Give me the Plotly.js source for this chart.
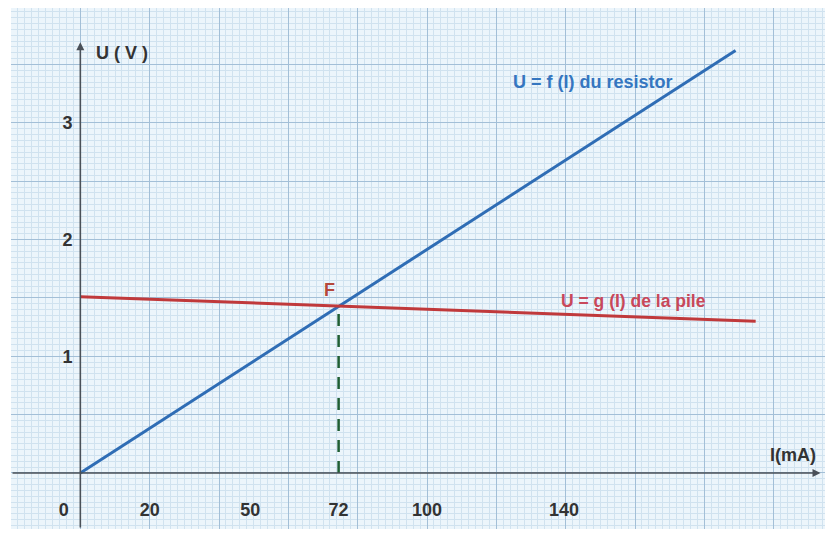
<!DOCTYPE html>
<html>
<head>
<meta charset="utf-8">
<script src="https://cdn.plot.ly/plotly-3.0.1.min.js"></script>
<style>html,body{margin:0;padding:0;background:#fff;}#chart{width:825px;height:535px;}</style>
</head>
<body>
<div id="chart"></div>
<script>
// ---- data ----
const resistorI = [0, 189];          // mA
const resistorU = [0, 3.62];         // V
const pileI = [0, 194.8];            // mA
const pileU = [1.51, 1.30];          // V
const pointF_I = 74.5;               // mA (labelled 72)
const pointF_U = 1.43;               // V
const xTickVals = [-4.8, 20, 49, 74.5, 100, 139.5];
const xTickText = ['0', '20', '50', '72', '100', '140'];
const yTickVals = [1, 2, 3];
const yTickText = ['1', '2', '3'];

const xRange = [-20, 214.8];
const yRange = [-0.48, 3.984];

const traces = [
  {x: resistorI, y: resistorU, mode: 'lines', line: {color: '#2f6db5', width: 3}, hoverinfo: 'none'},
  {x: pileI, y: pileU, mode: 'lines', line: {color: '#c0393b', width: 3}, hoverinfo: 'none'},
  {x: [pointF_I, pointF_I], y: [0, pointF_U], mode: 'lines', line: {color: '#1f5e33', width: 2.5, dash: '12px,9px'}, hoverinfo: 'none'},
  // invisible anchor so the label axes are drawn
  {x: [xRange[0]], y: [yRange[0]], xaxis: 'x2', yaxis: 'y2', mode: 'markers', marker: {opacity: 0}, hoverinfo: 'none'}
];

const FONT = 'Liberation Sans, Arial, sans-serif';
const lblFont = {family: FONT, size: 18, color: '#333', weight: 'bold'};

const layout = {
  width: 825, height: 535,
  margin: {l: 11, r: 0, t: 8, b: 6, pad: 0},
  paper_bgcolor: '#ffffff',
  plot_bgcolor: '#ecf5fb',
  showlegend: false,
  xaxis: {
    range: xRange, showticklabels: false, ticks: '', zeroline: false, showline: false,
    tick0: 0, dtick: 20, showgrid: true, gridcolor: '#a3bfd7', gridwidth: 1,
    minor: {tick0: 0, dtick: 2, showgrid: true, gridcolor: '#d0e2ef', gridwidth: 1}
  },
  yaxis: {
    range: yRange, showticklabels: false, ticks: '', zeroline: false, showline: false,
    tick0: 0, dtick: 0.5, showgrid: true, gridcolor: '#a3bfd7', gridwidth: 1,
    minor: {tick0: 0, dtick: 0.05, showgrid: true, gridcolor: '#d0e2ef', gridwidth: 1}
  },
  xaxis2: {
    overlaying: 'x', anchor: 'free', position: 0.062, side: 'bottom', range: xRange,
    tickmode: 'array', tickvals: xTickVals, ticktext: xTickText,
    showgrid: false, zeroline: false, showline: false, ticks: '', tickfont: lblFont
  },
  yaxis2: {
    overlaying: 'y', anchor: 'free', position: 0.0755, side: 'left', range: yRange,
    tickmode: 'array', tickvals: yTickVals, ticktext: yTickText,
    showgrid: false, zeroline: false, showline: false, ticks: '', tickfont: lblFont
  },
  annotations: [
    {xref: 'x', yref: 'y', axref: 'x', ayref: 'y', x: 213.5, y: 0, ax: -20, ay: 0, text: '', showarrow: true,
     arrowhead: 2, arrowsize: 1, arrowwidth: 1.6, arrowcolor: '#4a5058', standoff: 0},
    {xref: 'x', yref: 'y', axref: 'x', ayref: 'y', x: 0, y: 3.69, ax: 0, ay: -0.48, text: '', showarrow: true,
     arrowhead: 2, arrowsize: 1, arrowwidth: 1.6, arrowcolor: '#4a5058', standoff: 0},
    {xref: 'x', yref: 'y', x: 12, y: 3.6, text: 'U ( V )', showarrow: false, font: lblFont},
    {xref: 'x', yref: 'y', x: 205.5, y: 0.15, text: 'I(mA)', showarrow: false, font: lblFont},
    {xref: 'x', yref: 'y', x: 148, y: 3.35, text: 'U = f (I) du resistor', showarrow: false,
     font: {family: FONT, size: 18, color: '#3576c0', weight: 'bold'}},
    {xref: 'x', yref: 'y', x: 159.5, y: 1.47, text: 'U = g (I) de la pile', showarrow: false,
     font: {family: FONT, size: 17.5, color: '#c8485a', weight: 'bold'}},
    {xref: 'x', yref: 'y', x: 71.8, y: 1.57, text: 'F', showarrow: false,
     font: {family: FONT, size: 18, color: '#b5473a', weight: 'bold'}}
  ]
};

Plotly.newPlot('chart', traces, layout, {displayModeBar: false, staticPlot: true});
</script>
</body>
</html>
